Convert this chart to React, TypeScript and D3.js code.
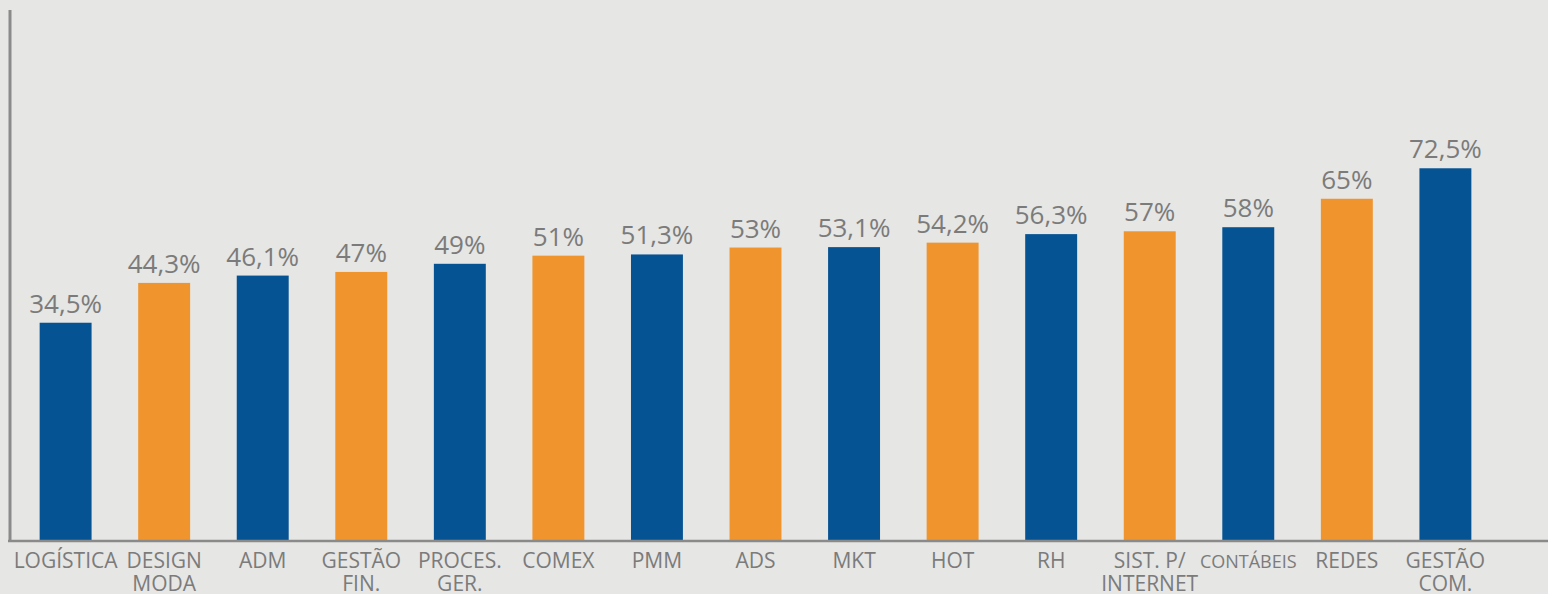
import React from 'react';
import * as d3 from 'd3';

const categories = [
  "LOGÍSTICA", "DESIGN\nMODA", "ADM", "GESTÃO\nFIN.", "PROCES.\nGER.", "COMEX", "PMM", "ADS",
  "MKT", "HOT", "RH", "SIST. P/\nINTERNET", "CONTÁBEIS", "REDES", "GESTÃO\nCOM.",
];
const values = [34.5, 44.3, 46.1, 47, 49, 51, 51.3, 53, 53.1, 54.2, 56.3, 57, 58, 65, 72.5];
const valueLabels = [
  "34,5%", "44,3%", "46,1%", "47%", "49%", "51%", "51,3%", "53%",
  "53,1%", "54,2%", "56,3%", "57%", "58%", "65%", "72,5%",
];

const width = 1548;
const height = 594;
const baseY = 541;
const blue = "#065394";
const orange = "#f0942e";
const grey = "#7b7b7b";
const font = "'Open Sans', sans-serif";

function App() {
  const x = d3.scaleBand<number>()
    .domain(d3.range(categories.length))
    .range([15, 1496])
    .paddingInner(0.473)
    .paddingOuter(0.25);

  // picture's bars don't start at zero, fitted domain
  const y = d3.scaleLinear().domain([-19.2, 113.9]).range([baseY, 0]);

  return (
    <>
      <style>{`body{margin:0;}`}</style>
      <svg width={width} height={height} style={{ display: 'block', background: '#e6e6e4' }}>
        <rect width={width} height={height} fill="#e6e6e4" />
        {values.map((v, i) => {
          const bx = x(i)!;
          const cx = bx + x.bandwidth() / 2;
          return (
            <g key={i}>
              <rect
                x={bx}
                y={y(v)}
                width={x.bandwidth()}
                height={baseY - y(v)}
                fill={i % 2 === 0 ? blue : orange}
              />
              <text
                x={cx}
                y={y(v) - 10}
                textAnchor="middle"
                fontFamily={font}
                fontSize={26}
                fill={grey}
              >
                {valueLabels[i]}
              </text>
              {categories[i].split("\n").map((line, j) => (
                <text
                  key={j}
                  x={cx}
                  y={568 + j * 23}
                  textAnchor="middle"
                  fontFamily={font}
                  fontSize={categories[i] === "CONTÁBEIS" ? 18 : 21}
                  fill={grey}
                >
                  {line}
                </text>
              ))}
            </g>
          );
        })}
        <line x1={10} x2={10} y1={10} y2={baseY + 1} stroke="#8a8a8a" strokeWidth={3} />
        <line x1={8} x2={width} y1={baseY} y2={baseY} stroke="#8a8a8a" strokeWidth={2.5} />
      </svg>
    </>
  );
}

export default App;
